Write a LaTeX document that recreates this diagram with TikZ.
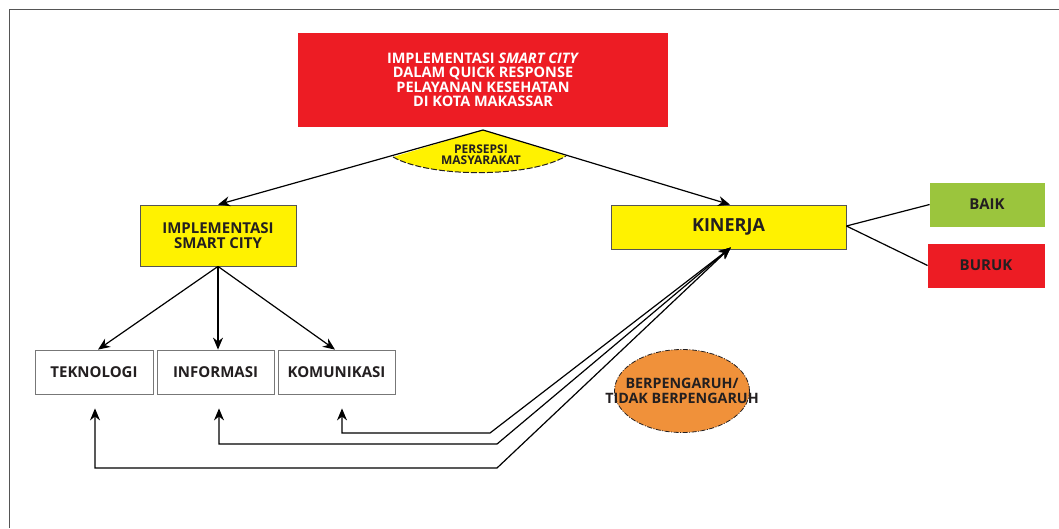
\documentclass[tikz,border=0pt]{standalone}
\usepackage{fontspec}
\setmainfont{Open Sans}
\usetikzlibrary{arrows.meta,shapes.geometric}
\definecolor{cred}{HTML}{ED1C24}
\definecolor{cyel}{HTML}{FFF200}
\definecolor{cgreen}{HTML}{9BC53D}
\definecolor{corange}{HTML}{F0913A}
\definecolor{ctext}{HTML}{231F20}
\definecolor{cframe}{HTML}{555555}
\tikzset{
  box/.style={draw=#1, line width=0.8pt, minimum height=44pt, inner sep=0pt, align=center, text=ctext, font=\bfseries\fontsize{15}{15}\selectfont},
  arr/.style={line width=1.2pt, -{Stealth[length=12pt,width=10pt]}},
  darr/.style={line width=1.2pt, {Stealth[length=12pt,width=10pt]}-{Stealth[length=12pt,width=10pt]}},
  ln/.style={line width=1.2pt},
}
\begin{document}
\begin{tikzpicture}[x=1pt,y=-1pt]
\useasboundingbox (0,0) rectangle (1059,528);
% frame
\draw[cframe, line width=0.8pt] (9,528) -- (9,9) -- (1059,9);
% nodes
\node[fill=cred, minimum width=370pt, minimum height=94pt, inner sep=0pt, align=center, text=white, font=\bfseries\fontsize{14.5}{14.5}\selectfont] (top) at (483,80) {IMPLEMENTASI \textit{SMART CITY}\\DALAM QUICK RESPONSE\\PELAYANAN KESEHATAN\\DI KOTA MAKASSAR};
\coordinate (apex) at (483,130);
\fill[cyel] (apex) -- (393,157) .. controls (430,178) and (530,178) .. (566,156) -- cycle;
\draw[ctext, line width=1pt, dash pattern=on 6pt off 2pt] (393,157) .. controls (430,178) and (530,178) .. (566,156);
\node[text=ctext, align=center, inner sep=0pt, font=\bfseries\fontsize{12}{11}\selectfont] (pers) at (481,155) {PERSEPSI\\MASYARAKAT};
\node[box=cframe, fill=cyel, minimum width=156pt, minimum height=61pt] (impl) at (218,235.5) {IMPLEMENTASI\\SMART CITY};
\node[box=cframe, fill=cyel, minimum width=235pt, font=\bfseries\fontsize{18}{18}\selectfont] (kin) at (728.5,227) {KINERJA};
\node[box=cgreen, fill=cgreen, minimum width=114pt, minimum height=43pt] (baik) at (987,204.5) {BAIK};
\node[box=cred, fill=cred, minimum width=116pt, minimum height=43pt] (buruk) at (986,265.5) {BURUK};
\node[box=cframe!80, fill=white, minimum width=118pt] (tek) at (94,372) {TEKNOLOGI};
\node[box=cframe!80, fill=white, minimum width=117pt] (inf) at (215.5,372) {INFORMASI};
\node[box=cframe!80, fill=white, minimum width=117pt] (kom) at (336.5,372) {KOMUNIKASI};
\node[ellipse, fill=corange, draw=ctext, line width=0.8pt, dash pattern=on 5pt off 1.5pt on 1pt off 1.5pt, minimum width=135pt, minimum height=83pt, inner sep=0pt] (eff) at (682,391) {};
\node[text=ctext, align=center, font=\bfseries\fontsize{14.3}{15}\selectfont] (efftxt) at (eff.center) {BERPENGARUH/\\TIDAK BERPENGARUH};
% connectors
\draw[arr] (apex) -- (impl.north);
\draw[arr] (apex) -- ([xshift=1.5pt]kin.north);
\draw[ln] ([yshift=1pt]kin.east) -- (baik.west);
\draw[ln] ([yshift=1pt]kin.east) -- (buruk.west);
\draw[arr] (impl.south) -- ([xshift=4pt]tek.north);
\draw[arr] (impl.south) -- ([xshift=2.5pt]inf.north);
\draw[arr] (impl.south) -- ([xshift=-1.5pt]kom.north);
\coordinate (tekc) at (497,468);
\coordinate (infc) at (497,444);
\coordinate (komc) at (490,433);
\draw[darr, shorten <=14pt, shorten >=-3pt] ([xshift=1pt]tek.south) |- (tekc) -- (kin.south);
\draw[darr, shorten <=14pt, shorten >=-3pt] ([xshift=3.5pt]inf.south) |- (infc) -- (kin.south);
\draw[darr, shorten <=14pt, shorten >=-3pt] ([xshift=5.5pt]kom.south) |- (komc) -- (kin.south);
\end{tikzpicture}
\end{document}
